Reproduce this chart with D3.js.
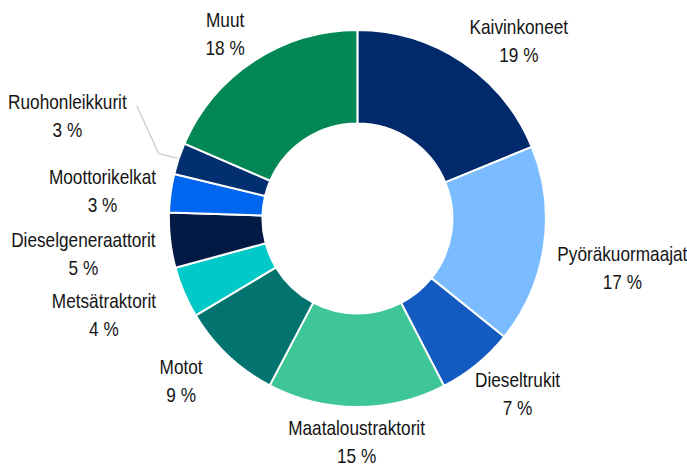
<!DOCTYPE html>
<html>
<head>
<meta charset="utf-8">
<script src="https://cdn.jsdelivr.net/npm/d3@7/dist/d3.min.js"></script>
<style>
  html, body { margin: 0; padding: 0; background: #fff; }
  svg { display: block; }
  text { font-family: "Liberation Sans", Arial, sans-serif; font-size: 21px; fill: #141414; }
</style>
</head>
<body>
<svg id="chart" width="687" height="464"></svg>
<script>
const categories = ["Kaivinkoneet", "Pyöräkuormaajat", "Dieseltrukit", "Maataloustraktorit", "Motot", "Metsätraktorit", "Dieselgeneraattorit", "Moottorikelkat", "Ruohonleikkurit", "Muut"];
const values = [18.8, 17.0, 6.6, 15.3, 8.7, 4.4, 4.7, 3.3, 2.7, 18.5];
const pctLabels = ["19 %", "17 %", "7 %", "15 %", "9 %", "4 %", "5 %", "3 %", "3 %", "18 %"];
const colors = ["#012a6c", "#7abcff", "#135bc1", "#3ec696", "#03736f", "#00c9c7", "#021a44", "#0065ef", "#022f6f", "#028755"];
const labelNudge = [[29,2],[14,18],[14,8],[0,7],[-32,5],[-32,12],[-15,10],[-15,2],[-55,-34],[-18,-4]];
const leaderIndex = [8];

const cx = 357.4, cy = 218.5, outerR = 188.5, innerR = 95;
const squeeze = 0.82;
const svg = d3.select("#chart");
const g = svg.append("g").attr("transform", `translate(${cx},${cy})`);

const pie = d3.pie().sort(null).value(d => d.v);
const data = categories.map((c, i) => ({ c, v: values[i], p: pctLabels[i], col: colors[i], i }));
const arcs = pie(data);
const arc = d3.arc().innerRadius(innerR).outerRadius(outerR);

g.selectAll("path.slice").data(arcs).enter().append("path")
  .attr("class", "slice")
  .attr("d", arc)
  .attr("fill", d => d.data.col)
  .attr("stroke", "#fff")
  .attr("stroke-width", 2)
  .attr("stroke-linejoin", "round");

const lineH = 28;
arcs.forEach(d => {
  const mid = (d.startAngle + d.endAngle) / 2;
  const s = Math.sin(mid), c = Math.cos(mid);
  const lg = g.append("g");
  const g1 = lg.append("g"), g2 = lg.append("g");
  const t1 = g1.append("text").attr("text-anchor", "middle").text(d.data.c);
  const t2 = g2.append("text").attr("text-anchor", "middle").text(d.data.p);
  const w1 = t1.node().getComputedTextLength() * squeeze;
  const w2 = t2.node().getComputedTextLength() * squeeze;
  const w = Math.max(w1, w2);
  const nx = labelNudge[d.data.i][0], ny = labelNudge[d.data.i][1];
  const bx = outerR * s + s * w / 2 + nx;
  const by = -outerR * c - c * lineH + ny;
  g1.attr("transform", `translate(${bx},${by - 7}) scale(${squeeze},1)`);
  g2.attr("transform", `translate(${bx},${by - 7 + lineH}) scale(${squeeze},1)`);
  if (leaderIndex.includes(d.data.i)) {
    const ex = outerR * s, ey = -outerR * c;
    const sx = bx + w1 / 2 + 10, sy = by - 10;
    g.insert("polyline", ":first-child")
      .attr("points", `${sx},${sy} ${ex - 20},${ey - 5} ${ex},${ey}`)
      .attr("fill", "none")
      .attr("stroke", "#c8c8c8")
      .attr("stroke-width", 1.2);
  }
});
</script>
</body>
</html>
